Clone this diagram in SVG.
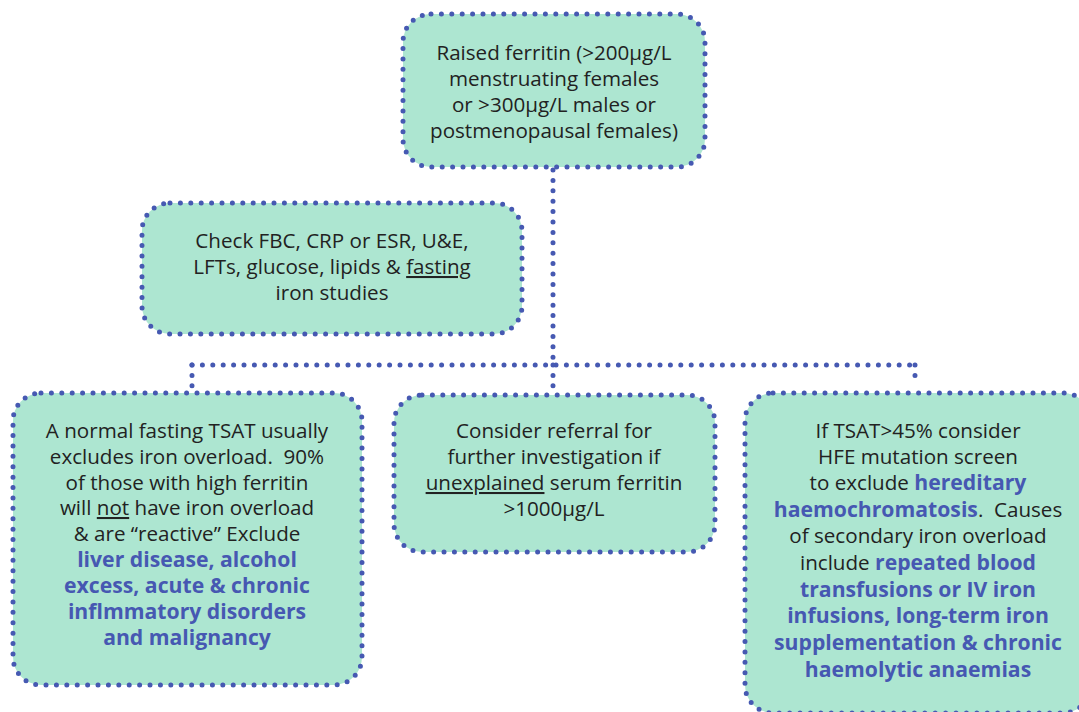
<svg xmlns="http://www.w3.org/2000/svg" width="1079" height="712" viewBox="0 0 1079 712">
<style>
.box{fill:#ADE6D1;stroke:#4659B2;stroke-width:5;stroke-dasharray:0 10.4;stroke-linecap:round}
.con{fill:none;stroke:#4659B2;stroke-width:5;stroke-dasharray:0 10.4;stroke-linecap:round}
.t{font-family:"Open Sans","Noto Sans",sans-serif;font-size:20.6px;fill:#222;text-anchor:middle}
.b{font-weight:bold;fill:#4658B2;font-size:21.2px}
.u{text-decoration:underline}
</style>
<rect width="1079" height="712" fill="#fff"/>
<g id="connectors">
<path class="con" d="M553,170 V365"/>
<path class="con" d="M192,365 H915"/>
<path class="con" d="M192,365 V392"/>
<path class="con" d="M553,365 V394"/>
<path class="con" d="M915,365 V385"/>
</g>
<g id="n1">
<rect class="box" x="403" y="14" width="302" height="153" rx="28"/>
<text class="t" x="554"><tspan x="554" y="60">Raised ferritin (&gt;200µg/L</tspan><tspan x="554" y="86">menstruating females</tspan><tspan x="554" y="112">or &gt;300µg/L males or</tspan><tspan x="554" y="138">postmenopausal females)</tspan></text>
</g>
<g id="n2">
<rect class="box" x="142" y="203" width="380" height="131" rx="28"/>
<text class="t" x="332"><tspan x="332" y="248">Check FBC, CRP or ESR, U&amp;E,</tspan><tspan x="332" y="274">LFTs, glucose, lipids &amp; <tspan class="u">fasting</tspan></tspan><tspan x="332" y="300">iron studies</tspan></text>
</g>
<g id="n3">
<rect class="box" x="13" y="393" width="349" height="292" rx="28"/>
<text class="t" x="187" xml:space="preserve"><tspan x="187" y="438">A normal fasting TSAT usually</tspan><tspan x="187" y="464">excludes iron overload.  90%</tspan><tspan x="187" y="490">of those with high ferritin</tspan><tspan x="187" y="515">will <tspan class="u">not</tspan> have iron overload</tspan><tspan x="187" y="541">&amp; are “reactive” Exclude</tspan><tspan class="b" x="187" y="567">liver disease, alcohol</tspan><tspan class="b" x="187" y="593">excess, acute &amp; chronic</tspan><tspan class="b" x="187" y="619">inflmmatory disorders</tspan><tspan class="b" x="187" y="645">and malignancy</tspan></text>
</g>
<g id="n4">
<rect class="box" x="394" y="395" width="321" height="157" rx="28"/>
<text class="t" x="554"><tspan x="554" y="438">Consider referral for</tspan><tspan x="554" y="464">further investigation if</tspan><tspan x="554" y="490"><tspan class="u">unexplained</tspan> serum ferritin</tspan><tspan x="554" y="516">&gt;1000µg/L</tspan></text>
</g>
<g id="n5">
<rect class="box" x="745" y="393" width="346" height="320" rx="28"/>
<text class="t" x="918" xml:space="preserve"><tspan x="918" y="438">If TSAT&gt;45% consider</tspan><tspan x="918" y="464">HFE mutation screen</tspan><tspan x="918" y="490">to exclude <tspan class="b">hereditary</tspan></tspan><tspan x="918" y="517"><tspan class="b">haemochromatosis</tspan>.  Causes</tspan><tspan x="918" y="543">of secondary iron overload</tspan><tspan x="918" y="570">include <tspan class="b">repeated blood</tspan></tspan><tspan class="b" x="918" y="597">transfusions or IV iron</tspan><tspan class="b" x="918" y="623">infusions, long-term iron</tspan><tspan class="b" x="918" y="650">supplementation &amp; chronic</tspan><tspan class="b" x="918" y="677">haemolytic anaemias</tspan></text>
</g>
</svg>
